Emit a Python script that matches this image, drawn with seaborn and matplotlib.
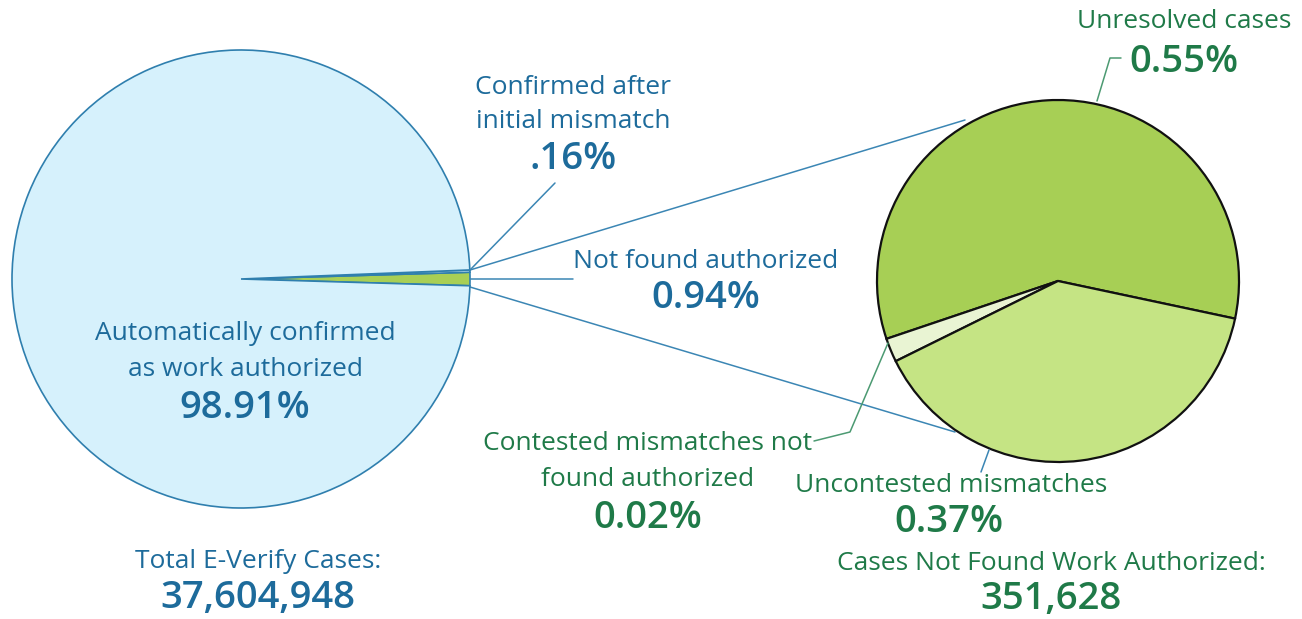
import matplotlib
matplotlib.use("Agg")
import matplotlib.pyplot as plt
import seaborn as sns

sns.set_theme(style="white")
plt.rcParams['font.family'] = ['Open Sans', 'DejaVu Sans']

# ---- data ----
left_labels = ["Not found authorized", "Confirmed after initial mismatch", "Automatically confirmed as work authorized"]
left_values = [0.94, 0.16, 98.91]
right_labels = ["Unresolved cases", "Contested mismatches not found authorized", "Uncontested mismatches"]
right_values = [0.55, 0.02, 0.37]
total_cases = "37,604,948"
not_found_cases = "351,628"

W, H = 1302, 619
BLUE_T = "#1d6b9b"
GREEN_T = "#1f7a48"
LINE_B = "#3b86b4"
LINE_G = "#4c9a72"
REG = 19
BIG = 27.5

fig = plt.figure(figsize=(W / 100, H / 100), dpi=100)
ax = fig.add_axes([0, 0, 1, 1])

def Y(y):
    return H - y

# left pie
lc = (241, Y(279)); lr = 229
green_span = left_values[0] / sum(left_values) * 360
ax.pie(left_values, colors=["#a8cf55", "#d6f1fc", "#d6f1fc"], center=lc, radius=lr,
       startangle=-green_span / 2, counterclock=True,
       wedgeprops=dict(edgecolor="#2f7fae", linewidth=1.2), frame=True)

# right pie
rc = (1058, Y(281)); rr = 181
ax.pie(right_values, colors=["#a7cf55", "#e9f4d3", "#c5e484"], center=rc, radius=rr,
       startangle=-12, counterclock=True,
       wedgeprops=dict(edgecolor="#111111", linewidth=1.6), frame=True)
ax.set_xlim(0, W)
ax.set_ylim(0, H)
ax.set_aspect("equal")
ax.axis("off")

# connector lines between pies
ax.plot([470, 965], [Y(270), Y(120)], color=LINE_B, lw=1.1, zorder=0)
ax.plot([470, 955], [Y(287), Y(432)], color=LINE_B, lw=1.1, zorder=0)
ax.plot([470, 573], [Y(279), Y(279)], color=LINE_B, lw=1.1, zorder=3)
ax.plot([470, 555], [Y(270), Y(183)], color=LINE_B, lw=1.1, zorder=3)
# right annotation lines
ax.plot([1097, 1110, 1121], [Y(101), Y(58), Y(58)], color=LINE_G, lw=1.1, zorder=3)
ax.plot([888, 850, 814], [Y(343), Y(432), Y(441)], color=LINE_G, lw=1.1, zorder=3)
ax.plot([989, 981], [Y(450), Y(472)], color=LINE_B, lw=1.1, zorder=3)

def txt(x, y, s, color, size=REG, bold=False):
    ax.text(x, Y(y), s, color=color, fontsize=size, ha="center", va="center",
            fontweight="semibold" if bold else "normal", zorder=5)

# left texts
txt(573, 87, "Confirmed after", BLUE_T)
txt(573, 121, "initial mismatch", BLUE_T)
txt(573, 159, f".{int(round(left_values[1]*100))}%", BLUE_T, BIG, True)
txt(706, 261, left_labels[0], BLUE_T)
txt(706, 298, f"{left_values[0]:.2f}%", BLUE_T, BIG, True)
txt(245, 333, "Automatically confirmed", BLUE_T)
txt(245, 369, "as work authorized", BLUE_T)
txt(245, 408, f"{left_values[2]:.2f}%", BLUE_T, BIG, True)
txt(258, 562, "Total E-Verify Cases:", BLUE_T)
txt(258, 598, total_cases, BLUE_T, BIG, True)

# right texts
txt(1184, 22, right_labels[0], GREEN_T)
txt(1184, 62, f"{right_values[0]:.2f}%", GREEN_T, BIG, True)
txt(648, 444, "Contested mismatches not", GREEN_T)
txt(648, 479, "found authorized", GREEN_T)
txt(648, 518, f"{right_values[1]:.2f}%", GREEN_T, BIG, True)
txt(951, 485, right_labels[2], GREEN_T)
txt(949, 522, f"{right_values[2]:.2f}%", GREEN_T, BIG, True)
txt(1051, 564, "Cases Not Found Work Authorized:", GREEN_T)
txt(1051, 599, not_found_cases, GREEN_T, BIG, True)

fig.savefig("out.png", dpi=100)
